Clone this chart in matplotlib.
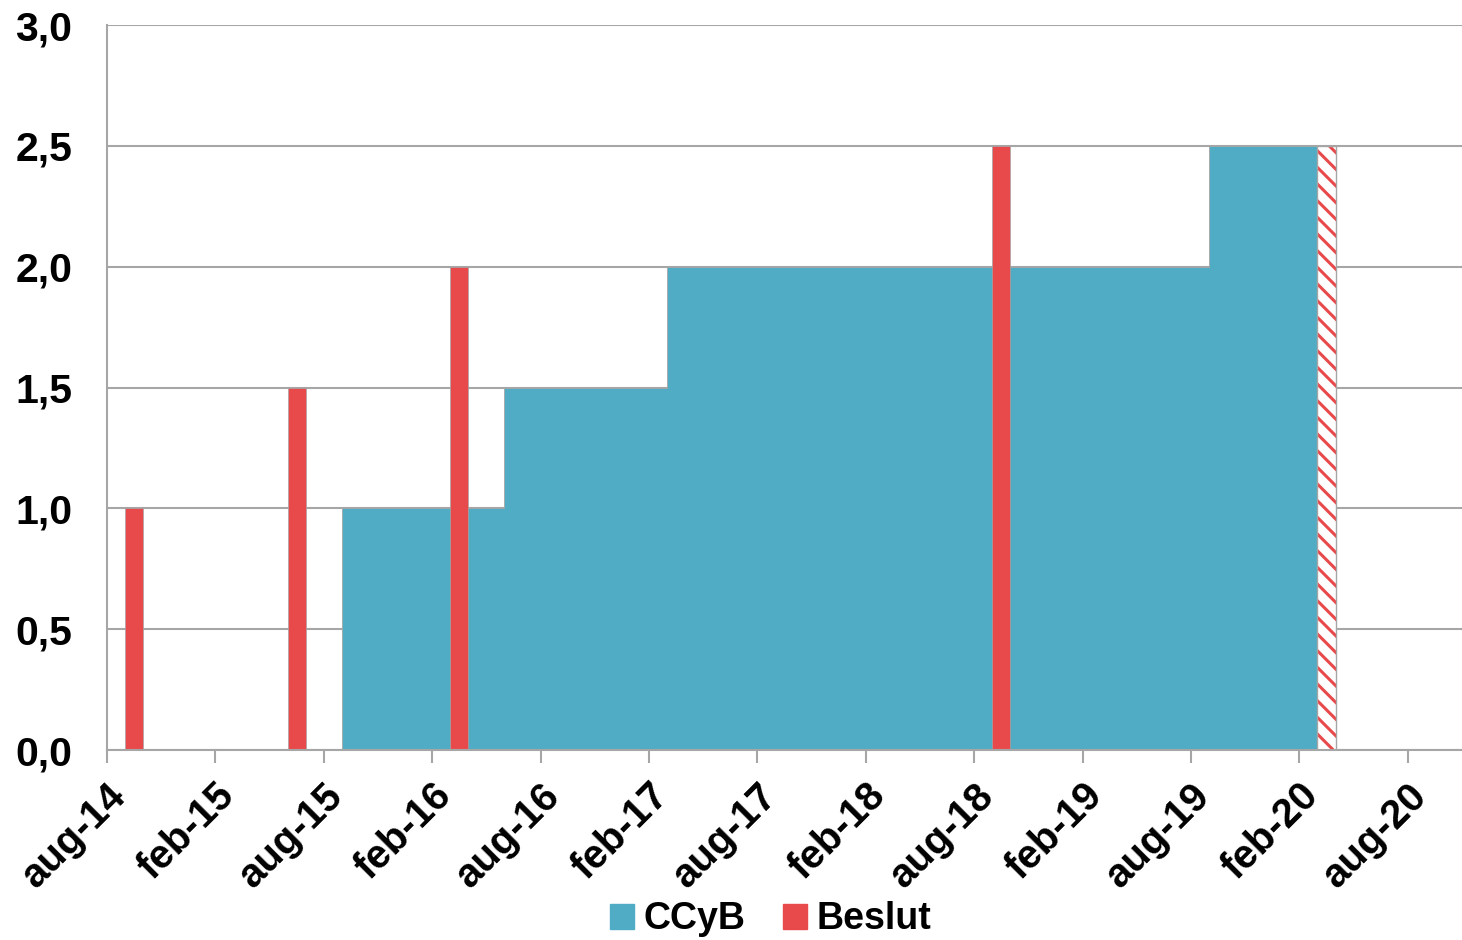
import matplotlib.pyplot as plt
import matplotlib.patches as mpatches
import pandas as pd

# months counted from aug-2014 (index 0 = aug-14)
START = pd.Period("2014-08", freq="M")

ccyb_change = ["2015-09", "2016-06", "2017-03", "2019-09", "2020-03"]
ccyb_level = [1.0, 1.5, 2.0, 2.5, 2.5]

beslut_month = ["2014-09", "2015-06", "2016-03", "2018-09"]
beslut_value = [1.0, 1.5, 2.0, 2.5]

hatch_month = ["2020-03"]
hatch_value = [2.5]

tick_month = ["2014-08", "2015-02", "2015-08", "2016-02", "2016-08", "2017-02",
              "2017-08", "2018-02", "2018-08", "2019-02", "2019-08", "2020-02",
              "2020-08"]
tick_label = ["aug-14", "feb-15", "aug-15", "feb-16", "aug-16", "feb-17",
              "aug-17", "feb-18", "aug-18", "feb-19", "aug-19", "feb-20",
              "aug-20"]
y_ticks = [0.0, 0.5, 1.0, 1.5, 2.0, 2.5, 3.0]


def midx(s):
    return (pd.Period(s, freq="M") - START).n


BLUE = "#4facc4"
RED = "#e8494b"
GREY = "#a6a6a6"

plt.rcParams.update({"font.family": "Liberation Sans", "font.weight": "bold",
                     "hatch.linewidth": 2.2})

fig = plt.figure(figsize=(14.62, 9.4), dpi=100)
ax = fig.add_axes([0.0732, 0.2021, 0.9268, 0.7713])

# CCyB step area
cx = [midx(m) for m in ccyb_change]
ax.fill_between(cx, ccyb_level, 0, step="post", color=BLUE,
                edgecolor=GREY, linewidth=0.6, zorder=2)

# decisions
bx = [midx(m) for m in beslut_month]
ax.bar(bx, beslut_value, width=1.0, align="edge", color=RED,
       edgecolor=GREY, linewidth=0.5, zorder=3)

# hatched bar (march 2020)
hx = [midx(m) for m in hatch_month]
ax.bar(hx, hatch_value, width=1.0, align="edge", color="white",
       edgecolor=RED, linewidth=0, hatch="\\\\", zorder=3)
ax.bar(hx, hatch_value, width=1.0, align="edge", fill=False,
       edgecolor=GREY, linewidth=1.0, zorder=4)

ax.set_xlim(0, 75)
ax.set_ylim(0, 3.0)
ax.set_yticks(y_ticks)
ax.set_yticklabels([f"{v:.1f}".replace(".", ",") for v in y_ticks])
ax.set_xticks([midx(m) for m in tick_month])
ax.set_xticklabels(tick_label, rotation=45, ha="right",
                   rotation_mode="anchor", va="top")

ax.grid(axis="y", color=GREY, linewidth=1.5, zorder=0)
ax.set_axisbelow(True)
for s in ["top", "right"]:
    ax.spines[s].set_visible(False)
for s in ["left", "bottom"]:
    ax.spines[s].set_color(GREY)
    ax.spines[s].set_linewidth(1.5)
    ax.spines[s].set_zorder(5)

ax.tick_params(axis="y", length=0, pad=25, labelsize=29.5)
ax.tick_params(axis="x", length=9, width=1.5, color=GREY, pad=10, labelsize=29)

handles = [mpatches.Patch(color=BLUE, label="CCyB"),
           mpatches.Patch(color=RED, label="Beslut")]
fig.legend(handles=handles, loc="center", bbox_to_anchor=(0.527, 0.022),
           ncol=2, frameon=False, fontsize=27, handlelength=0.65,
           handleheight=0.65, handletextpad=0.25, columnspacing=1.0)

fig.savefig("out.png", dpi=100)
